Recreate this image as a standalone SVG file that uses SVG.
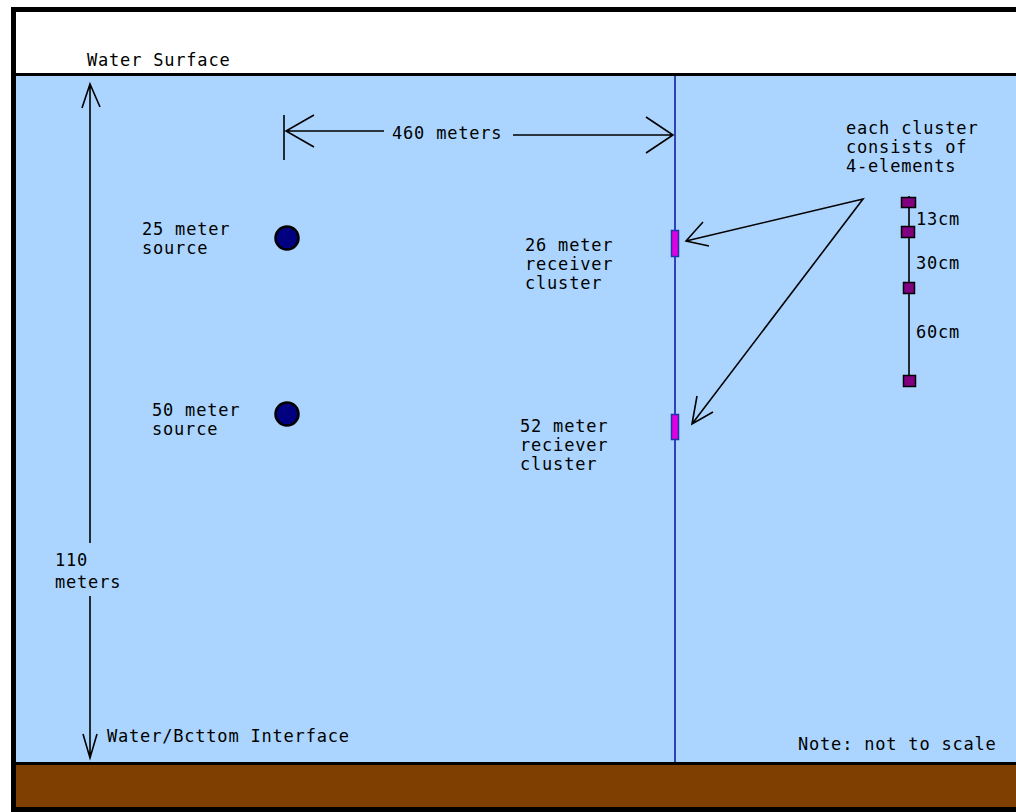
<svg xmlns="http://www.w3.org/2000/svg" width="1016" height="812" viewBox="0 0 1016 812">
<style>
text{font-family:"DejaVu Sans Mono","Liberation Mono",monospace;font-size:17px;letter-spacing:0.8px;fill:#000}
.ln{stroke:#000;stroke-width:1.6;fill:none}
.src{fill:#000080;stroke:#000;stroke-width:2.5}
.rcv{fill:#e000e0;stroke:#2233aa;stroke-width:1.5}
.el{fill:#800080;stroke:#000;stroke-width:1.5}
</style>
<rect x="0" y="0" width="1016" height="812" fill="#fff"/>
<g id="scene">
<rect x="14" y="75" width="1010" height="688" fill="#abd5ff"/>
<rect x="14" y="764" width="1010" height="44" fill="#7f3f00"/>
<line x1="14" y1="74.5" x2="1016" y2="74.5" stroke="#000" stroke-width="3"/>
<line x1="14" y1="763.5" x2="1016" y2="763.5" stroke="#000" stroke-width="3"/>
<line x1="14" y1="809.5" x2="1016" y2="809.5" stroke="#000" stroke-width="5"/>
<line x1="14" y1="9.5" x2="1016" y2="9.5" stroke="#000" stroke-width="5"/>
<line x1="13.5" y1="7" x2="13.5" y2="812" stroke="#000" stroke-width="5"/>
<line x1="675" y1="76" x2="675" y2="762" stroke="#2233aa" stroke-width="1.8"/>
</g>
<g id="labels">
<text x="87" y="66">Water Surface</text>
<text x="107" y="742">Water/Bcttom Interface</text>
<text x="798" y="750">Note: not to scale</text>
<text x="55" y="566">110</text>
<text x="55" y="588">meters</text>
</g>
<g id="connectors">
<path class="ln" d="M90,84 V543 M90,596 V758 M82,108 L90,84 L100,107 M83,734 L90,758 L97,734"/>
<path class="ln" d="M284,115 V160 M286,131 H384 M314,115 L286,131 L314,147 M513,135 H673 M646,117 L673,135 L646,153"/>
<text x="392" y="139">460 meters</text>
<path class="ln" d="M686,241 L863,199 L692,424 M703,222 L686,241 L709,246 M697,396 L692,424 L713,412"/>
</g>
<g id="source25">
<circle class="src" cx="287" cy="238" r="11.5"/>
<text x="142" y="235">25 meter</text>
<text x="142" y="254">source</text>
</g>
<g id="source50">
<circle class="src" cx="287" cy="414" r="11.5"/>
<text x="152" y="416">50 meter</text>
<text x="152" y="435">source</text>
</g>
<g id="receiver26">
<rect class="rcv" x="671.5" y="230.5" width="7" height="26"/>
<text x="525" y="251">26 meter</text>
<text x="525" y="270">receiver</text>
<text x="525" y="289">cluster</text>
</g>
<g id="receiver52">
<rect class="rcv" x="671.5" y="414.5" width="7" height="25"/>
<text x="520" y="432">52 meter</text>
<text x="520" y="451">reciever</text>
<text x="520" y="470">cluster</text>
</g>
<g id="cluster">
<text x="846" y="134">each cluster</text>
<text x="846" y="153">consists of</text>
<text x="846" y="172">4-elements</text>
<line class="ln" x1="909" y1="196" x2="909" y2="385"/>
<rect class="el" x="901.5" y="197.5" width="14" height="10"/>
<rect class="el" x="901.5" y="226.5" width="13" height="11"/>
<rect class="el" x="903.5" y="282.5" width="11" height="11"/>
<rect class="el" x="903.5" y="375.5" width="12" height="11"/>
<text x="916" y="225">13cm</text>
<text x="916" y="269">30cm</text>
<text x="916" y="338">60cm</text>
</g>
</svg>
